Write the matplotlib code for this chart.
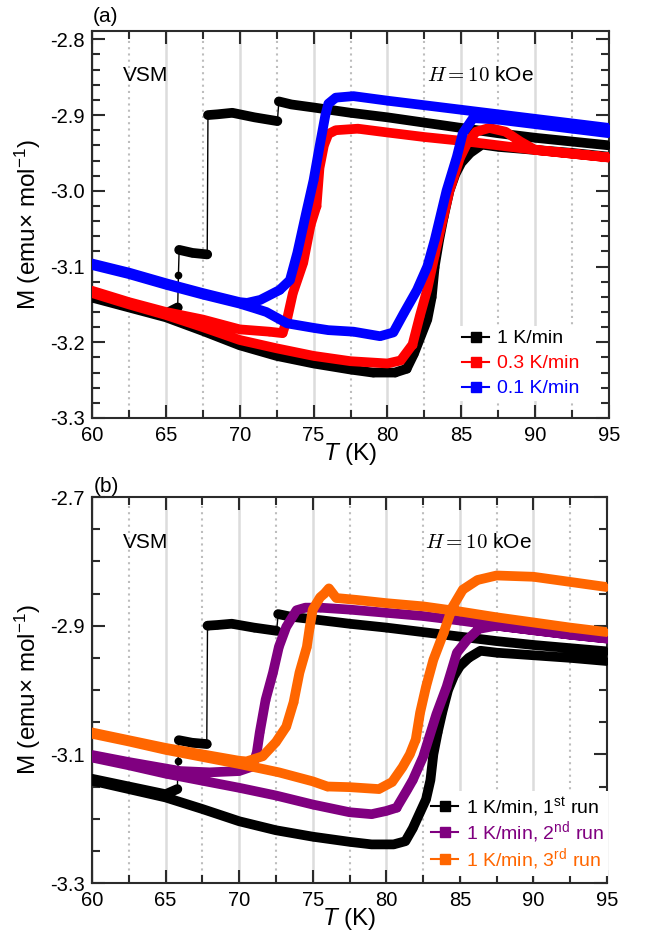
import matplotlib
matplotlib.use('Agg')
import matplotlib.pyplot as plt
from matplotlib.lines import Line2D
from matplotlib.ticker import MultipleLocator, FixedLocator, FormatStrFormatter
import numpy as np

# temperatura (K) y magnetizacion (emu/mol): enfriamiento 95->60 y luego calentamiento 60->95
T_1k = [95.0, 92.5, 90.0, 87.5, 85.0, 82.5, 80.0, 77.5, 75.0, 73.5, 72.65,
        72.55, 71.0, 69.5, 68.5, 67.85,
        67.8, 66.8, 65.9,
        65.85, 65.8, 65.0, 62.5, 60.0,
        60.0, 62.5, 65.0, 67.5, 70.0, 72.5, 75.0, 77.5, 79.0, 80.5, 81.3, 81.8,
        82.3, 82.7, 83.0, 83.2, 83.5, 83.8, 84.2, 84.6, 85.0, 85.6, 86.4, 87.5,
        90.0, 92.5, 95.0]
M_1k = [-2.940, -2.935, -2.930, -2.924, -2.917, -2.910, -2.903, -2.897, -2.890, -2.886, -2.882,
        -2.908, -2.903, -2.897, -2.899, -2.900,
        -3.084, -3.082, -3.078,
        -3.111, -3.154, -3.162, -3.150, -3.138,
        -3.141, -3.154, -3.167, -3.185, -3.204, -3.218, -3.228, -3.236, -3.240, -3.240, -3.235, -3.215,
        -3.190, -3.170, -3.140, -3.100, -3.065, -3.035, -3.000, -2.978, -2.963, -2.950, -2.939, -2.942,
        -2.946, -2.950, -2.955]

T_03k = [95.0, 92.5, 90.0, 87.5, 85.0, 82.5, 80.0, 78.0, 76.5, 76.0, 75.7, 75.4,
         75.2, 74.8, 74.3, 73.6, 73.2, 72.9, 72.0, 70.0, 67.5, 65.0, 62.5, 60.0,
         60.0, 62.5, 65.0, 67.5, 70.0, 72.5, 75.0, 77.5, 80.0, 80.9, 81.7, 82.2,
         82.7, 83.2, 83.6, 84.2, 84.9, 85.4, 86.0, 86.9, 88.0, 89.0, 90.0, 92.5, 95.0]
M_03k = [-2.956, -2.951, -2.946, -2.940, -2.934, -2.929, -2.923, -2.918, -2.920, -2.925, -2.940, -2.970,
         -3.020, -3.045, -3.095, -3.135, -3.170, -3.188, -3.186, -3.183, -3.170, -3.160, -3.147, -3.132,
         -3.135, -3.150, -3.164, -3.180, -3.197, -3.208, -3.218, -3.225, -3.228, -3.224, -3.203, -3.165,
         -3.130, -3.085, -3.050, -3.000, -2.957, -2.937, -2.922, -2.917, -2.922, -2.935, -2.946, -2.951, -2.956]

T_01k = [95.0, 92.5, 90.0, 87.5, 85.0, 82.5, 80.0, 77.7, 76.5, 76.0, 75.8, 75.4,
         75.0, 74.5, 73.9, 73.4, 72.7, 71.4, 70.5, 70.0, 67.5, 65.0, 62.5, 60.0,
         60.0, 62.5, 65.0, 67.5, 70.0, 71.0, 71.8, 73.2, 75.0, 76.0, 77.7, 79.5,
         80.4, 81.1, 82.0, 82.7, 83.2, 84.0, 84.7, 85.1, 85.8, 87.5, 90.0, 92.5, 95.0]
M_01k = [-2.917, -2.911, -2.905, -2.899, -2.893, -2.887, -2.881, -2.875, -2.877, -2.885, -2.900, -2.942,
         -2.986, -3.029, -3.082, -3.118, -3.131, -3.144, -3.148, -3.147, -3.135, -3.122, -3.108, -3.096,
         -3.098, -3.110, -3.124, -3.137, -3.149, -3.155, -3.160, -3.175, -3.181, -3.184, -3.186, -3.192,
         -3.187, -3.162, -3.131, -3.100, -3.065, -3.000, -2.955, -2.924, -2.904, -2.906, -2.912, -2.918, -2.924]

T_2nd = [95.0, 92.5, 90.0, 87.5, 85.0, 82.5, 80.0, 77.5, 75.5, 74.5, 73.9, 73.2,
         72.7, 72.3, 71.8, 71.4, 71.2, 70.9, 70.0, 68.0, 66.0, 65.0, 62.5, 60.0,
         60.0, 62.5, 65.0, 67.5, 70.0, 72.5, 75.0, 77.5, 79.0, 80.0, 80.7, 81.4,
         81.8, 82.5, 83.4, 84.1, 84.8, 85.5, 86.3, 87.5, 90.0, 92.5, 95.0]
M_2nd = [-2.920, -2.914, -2.907, -2.900, -2.892, -2.885, -2.880, -2.875, -2.872, -2.872, -2.876, -2.902,
         -2.933, -2.973, -3.015, -3.066, -3.097, -3.119, -3.126, -3.128, -3.126, -3.122, -3.112, -3.101,
         -3.105, -3.117, -3.130, -3.141, -3.152, -3.164, -3.178, -3.190, -3.193, -3.188, -3.183, -3.156,
         -3.140, -3.104, -3.038, -2.995, -2.942, -2.922, -2.905, -2.900, -2.907, -2.914, -2.920]

T_3rd = [95.0, 92.5, 90.0, 87.5, 85.0, 82.5, 80.0, 78.0, 76.6, 76.1, 75.8, 75.5,
         75.0, 74.8, 74.6, 74.1, 73.7, 73.2, 72.5, 71.6, 70.5, 70.0, 67.5, 65.0, 62.5, 60.0,
         60.0, 62.5, 65.0, 67.5, 70.0, 72.7, 75.0, 76.0, 77.5, 79.5, 80.4, 81.1,
         81.6, 82.0, 82.3, 82.7, 83.2, 83.9, 84.5, 85.2, 86.2, 87.5, 90.0, 92.5, 95.0]
M_3rd = [-2.910, -2.903, -2.895, -2.887, -2.878, -2.870, -2.865, -2.860, -2.857, -2.842, -2.850, -2.856,
         -2.875, -2.902, -2.933, -2.973, -3.019, -3.057, -3.081, -3.103, -3.111, -3.110, -3.100, -3.090, -3.078, -3.066,
         -3.068, -3.080, -3.093, -3.104, -3.115, -3.128, -3.142, -3.150, -3.151, -3.154, -3.143, -3.120,
         -3.100, -3.077, -3.035, -2.995, -2.953, -2.911, -2.871, -2.844, -2.829, -2.822, -2.824, -2.832, -2.840]

labels_a = ['1 K/min', '0.3 K/min', '0.1 K/min']
labels_b = ['1 K/min, 1$^{\\rm st}$ run', '1 K/min, 2$^{\\rm nd}$ run', '1 K/min, 3$^{\\rm rd}$ run']

yticks_a = [-3.3, -3.2, -3.1, -3.0, -2.9, -2.8]
yticks_b = [-3.3, -3.1, -2.9, -2.7]

plt.rcParams['font.family'] = ['Liberation Sans', 'DejaVu Sans']
plt.rcParams['mathtext.fontset'] = 'custom'
plt.rcParams['mathtext.rm'] = 'Liberation Sans'
plt.rcParams['mathtext.it'] = 'Liberation Sans:italic'
plt.rcParams['mathtext.bf'] = 'Liberation Sans:bold'
plt.rcParams['axes.unicode_minus'] = False


def banda(T, M):
    # corta la banda gruesa en los saltos verticales
    T = np.asarray(T, float)
    M = np.asarray(M, float)
    salto = (np.abs(np.diff(T)) < 0.12) & (np.abs(np.diff(M)) > 0.02)
    idx = np.where(salto)[0] + 1
    return np.insert(T, idx, np.nan), np.insert(M, idx, np.nan)


def curva(ax, T, M, color):
    ax.plot(T, M, '-', color=color, lw=1.0, marker='o', ms=4.5, zorder=3)
    Tb, Mb = banda(T, M)
    ax.plot(Tb, Mb, '-', color=color, lw=7, solid_capstyle='round',
            solid_joinstyle='round', zorder=3)


def ejes(ax, ymin, ymax, yticks, ymin_step):
    ax.set_xlim(60, 95)
    ax.set_ylim(ymin, ymax)
    ax.xaxis.set_major_locator(MultipleLocator(5))
    ax.xaxis.set_minor_locator(MultipleLocator(2.5))
    ax.yaxis.set_major_locator(FixedLocator(yticks))
    ax.yaxis.set_minor_locator(FixedLocator(np.arange(ymin, ymax + 1e-6, ymin_step)))
    ax.yaxis.set_major_formatter(FormatStrFormatter('%.1f'))
    ax.tick_params(which='both', direction='in', top=True, right=True,
                   width=1.5, color='#2b2b2b', labelsize=14.5)
    ax.tick_params(which='major', length=9.5)
    ax.tick_params(which='minor', length=5.5)
    ax.tick_params(axis='x', pad=6)
    ax.tick_params(axis='y', pad=5)
    for s in ax.spines.values():
        s.set_linewidth(1.5)
        s.set_color('#2b2b2b')
    ax.grid(which='major', axis='x', color='#dcdcdc', lw=1.8, zorder=0)
    ax.grid(which='minor', axis='x', color='#bdbdbd', lw=1.5, ls=(0, (1, 2)), zorder=0)
    ax.set_axisbelow(True)
    ax.set_xlabel('$T$ (K)', fontsize=17.5, labelpad=-3)
    ax.set_ylabel('M (emu\u00d7 mol$^{-1}$)', fontsize=17.5, labelpad=5)


def leyenda(ax, labels, colors, x, y, sep):
    h = [Line2D([], [], color=c, lw=1.5, marker='s', ms=7) for c in colors]
    leg = ax.legend(h, labels, loc='upper left', bbox_to_anchor=(x, y),
                    fontsize=14, handlelength=1.4, handletextpad=0.4,
                    labelspacing=sep, borderpad=0.2, borderaxespad=0,
                    frameon=True, fancybox=False, framealpha=1)
    leg.get_frame().set_edgecolor('none')
    leg.set_zorder(2.5)
    for t, c in zip(leg.get_texts(), colors):
        t.set_color(c)


fig = plt.figure(figsize=(6.46, 9.46), dpi=100)
ax1 = fig.add_axes([92 / 646, 1 - 418 / 946, 517 / 646, 387 / 946])
ax2 = fig.add_axes([92 / 646, 1 - 883 / 946, 515 / 646, 386 / 946])

colores_a = ['black', '#ff0000', '#0000ff']
colores_b = ['black', '#800080', '#ff6600']

curva(ax1, T_1k, M_1k, colores_a[0])
curva(ax1, T_03k, M_03k, colores_a[1])
curva(ax1, T_01k, M_01k, colores_a[2])
ejes(ax1, -3.3, -2.789, yticks_a, 0.02)
leyenda(ax1, labels_a, colores_a, 0.708, 0.238, 0.38)

curva(ax2, T_1k, M_1k, colores_b[0])
curva(ax2, T_2nd, M_2nd, colores_b[1])
curva(ax2, T_3rd, M_3rd, colores_b[2])
ejes(ax2, -3.3, -2.7, yticks_b, 0.05)
leyenda(ax2, labels_b, colores_b, 0.651, 0.238, 0.05)

for ax, yt in [(ax1, 0.886), (ax2, 0.881)]:
    ax.text(0.104, yt, 'VSM', transform=ax.transAxes, fontsize=15,
            ha='center', va='center')
    ax.text(0.751, yt, '$H = 10$ kOe', transform=ax.transAxes, fontsize=15,
            ha='center', va='center', math_fontfamily='cm')

fig.text(106 / 646, 1 - 17 / 946, '(a)', fontsize=15, ha='center', va='center')
fig.text(106 / 646, 1 - 486 / 946, '(b)', fontsize=15, ha='center', va='center')

fig.savefig('out.png', dpi=100)
